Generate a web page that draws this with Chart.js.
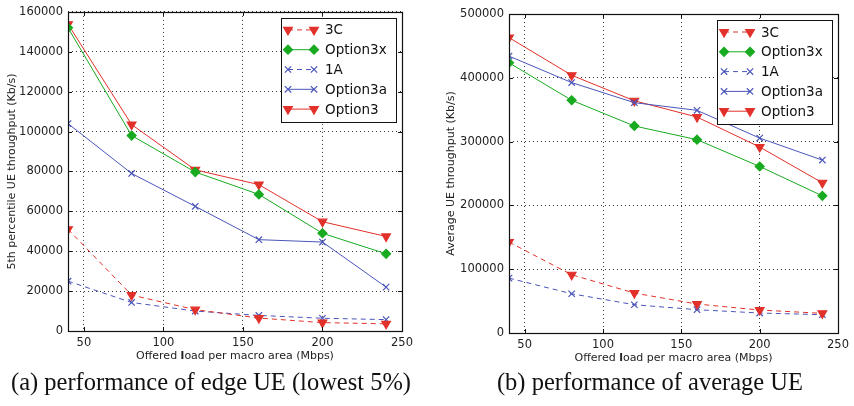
<!DOCTYPE html>
<html>
<head>
<meta charset="utf-8">
<script src="https://cdn.jsdelivr.net/npm/chart.js@4"></script>
<style>
  body { margin: 0; background: #fff; width: 854px; height: 406px; overflow: hidden; position: relative; }
  .box { position: absolute; top: 0; width: 427px; height: 370px; }
  .cap { position: absolute; top: 368px; font-family: "Liberation Serif", serif; font-size: 24.5px; color: #111; white-space: nowrap; transform: translateX(-50%); }
</style>
</head>
<body>
<div class="box" style="left:0"><canvas id="edge"></canvas></div>
<div class="box" style="left:427px"><canvas id="avg"></canvas></div>
<div class="cap" style="left:211px">(a) performance of edge UE (lowest 5%)</div>
<div class="cap" style="left:650px">(b) performance of average UE</div>
<script>
const loads = [40, 80, 120, 160, 200, 240];
const xTicks = [50, 100, 150, 200, 250];
const seriesNames = ["3C", "Option3x", "1A", "Option3a", "Option3"];

// 5th percentile (edge UE) throughput, Kb/s
const edge3C = [51000, 18000, 10700, 6500, 4200, 3600];
const edgeOpt3x = [152000, 98000, 79700, 68500, 49000, 38700];
const edge1A = [25000, 14300, 10000, 7800, 6400, 5700];
const edgeOpt3a = [104000, 79000, 62500, 45800, 44600, 22000];
const edgeOpt3 = [153800, 103500, 80800, 73400, 54800, 47400];

// average UE throughput, Kb/s
const avg3C = [142500, 91300, 62600, 45400, 36000, 30800];
const avgOpt3x = [423500, 364800, 324500, 303000, 261000, 215000];
const avg1A = [86000, 61500, 44300, 36500, 31300, 28700];
const avgOpt3a = [434000, 392500, 361000, 349000, 305500, 271000];
const avgOpt3 = [463000, 404000, 364000, 338500, 291500, 235500];

const RED = "#e2302a", GREEN = "#18aa20", BLUE = "#4a55b8";
const FONT = "'DejaVu Sans', sans-serif";

function styles(i) {
  return [
    { color: RED, dash: [5, 4], style: "triangle", rot: 180, r: 5 },
    { color: GREEN, dash: [], style: "rectRot", rot: 0, r: 4.5 },
    { color: BLUE, dash: [5, 4], style: "crossRot", rot: 0, r: 4.5 },
    { color: BLUE, dash: [], style: "crossRot", rot: 0, r: 4.5 },
    { color: RED, dash: [], style: "triangle", rot: 180, r: 5 },
  ][i];
}

function makeSets(values) {
  return values.map((arr, i) => {
    const s = styles(i);
    return {
      label: seriesNames[i],
      data: arr.map((v, k) => ({ x: loads[k], y: v })),
      borderColor: s.color,
      backgroundColor: s.color,
      borderWidth: 1,
      borderDash: s.dash,
      pointStyle: s.style,
      pointRotation: s.rot,
      pointRadius: s.r,
      pointBorderWidth: 1.2,
      tension: 0,
    };
  });
}

const framePlugin = {
  id: "frame",
  afterDatasetsDraw(chart) {
    const { ctx, chartArea: a } = chart;
    ctx.save();
    ctx.strokeStyle = "#111";
    ctx.lineWidth = 1;
    ctx.beginPath();
    chart.scales.x.ticks.forEach(t => {
      const px = Math.round(chart.scales.x.getPixelForValue(t.value)) + 0.5;
      ctx.moveTo(px, a.bottom); ctx.lineTo(px, a.bottom - 4);
      ctx.moveTo(px, a.top); ctx.lineTo(px, a.top + 4);
    });
    chart.scales.y.ticks.forEach(t => {
      const py = Math.round(chart.scales.y.getPixelForValue(t.value)) + 0.5;
      ctx.moveTo(a.left, py); ctx.lineTo(a.left + 4, py);
      ctx.moveTo(a.right, py); ctx.lineTo(a.right - 4, py);
    });
    ctx.stroke();
    ctx.lineWidth = 1.2;
    ctx.strokeRect(Math.round(a.left) + 0.5, Math.round(a.top) + 0.5, Math.round(a.width), Math.round(a.height));

    // x axis title with the odd bold "l"
    const parts = [["Offered ", "normal"], ["l", "bold"], ["oad per macro area (Mbps)", "normal"]];
    ctx.fillStyle = "#222";
    ctx.textBaseline = "middle";
    let total = 0;
    parts.forEach(p => { ctx.font = p[1] + " 11px " + FONT; total += ctx.measureText(p[0]).width; });
    let x = (a.left + a.right) / 2 - total / 2;
    const y = a.bottom + 25;
    parts.forEach(p => {
      ctx.font = p[1] + " 11px " + FONT;
      ctx.fillText(p[0], x, y);
      x += ctx.measureText(p[0]).width;
    });

    // legend box inside the plot
    const bw = 115, bh = 104;
    const bx = a.right - 6 - bw, by = a.top + 6;
    ctx.fillStyle = "#fff";
    ctx.fillRect(bx, by, bw, bh);
    ctx.lineWidth = 1;
    ctx.strokeStyle = "#111";
    ctx.strokeRect(Math.round(bx) + 0.5, Math.round(by) + 0.5, bw, bh);
    chart.data.datasets.forEach((ds, i) => {
      const ly = by + 12 + i * 19.8;
      const x0 = bx + 7, x1 = bx + 33;
      ctx.save();
      ctx.strokeStyle = ds.borderColor;
      ctx.lineWidth = 1;
      ctx.setLineDash(ds.borderDash);
      ctx.beginPath(); ctx.moveTo(x0, ly); ctx.lineTo(x1, ly); ctx.stroke();
      ctx.restore();
      ctx.fillStyle = ds.backgroundColor;
      ctx.strokeStyle = ds.borderColor;
      ctx.lineWidth = 1.2;
      const opts = { pointStyle: ds.pointStyle, radius: ds.pointRadius, rotation: ds.pointRotation, borderWidth: 1.2 };
      Chart.helpers.drawPoint(ctx, opts, x0, ly);
      Chart.helpers.drawPoint(ctx, opts, x1, ly);
      ctx.fillStyle = "#111";
      ctx.font = "13.5px " + FONT;
      ctx.textBaseline = "middle";
      ctx.fillText(ds.label, bx + 44, ly + 1);
    });
    ctx.restore();
  }
};

function build(id, values, yMax, yStep, yTitle, yWidth, xHeight, pad, titlePad) {
  new Chart(document.getElementById(id), {
    type: "line",
    data: { datasets: makeSets(values) },
    options: {
      responsive: true,
      maintainAspectRatio: false,
      animation: false,
      layout: { padding: pad },
      plugins: { legend: { display: false }, tooltip: { enabled: false } },
      scales: {
        x: {
          type: "linear", min: 40, max: 250,
          afterBuildTicks: s => { s.ticks = xTicks.map(v => ({ value: v })); },
          afterFit: s => { s.height = xHeight; },
          grid: { color: "#333", lineWidth: 1, drawTicks: false },
          border: { display: false, dash: [1, 3] },
          ticks: { padding: 5, color: "#222", font: { family: FONT, size: 11.5 }, maxRotation: 0 },
        },
        y: {
          min: 0, max: yMax,
          ticks: { stepSize: yStep, padding: 5, color: "#222", font: { family: FONT, size: 11.5 }, callback: v => String(v) },
          afterFit: s => { s.width = yWidth; },
          grid: { color: "#333", lineWidth: 1, drawTicks: false },
          border: { display: false, dash: [1, 3] },
          title: { display: true, text: yTitle, color: "#222", font: { family: FONT, size: 11 }, padding: { top: titlePad, bottom: 2 } },
        },
      },
    },
    plugins: [framePlugin],
  });
}

build("edge", [edge3C, edgeOpt3x, edge1A, edgeOpt3a, edgeOpt3], 160000, 20000,
  "5th percentile UE throughput (Kb/s)", 68, 39, { top: 8, right: 25, left: 0, bottom: 0 }, 6);
build("avg", [avg3C, avgOpt3x, avg1A, avgOpt3a, avgOpt3], 500000, 100000,
  "Average UE throughput (Kb/s)", 82, 37, { top: 14, right: 14, left: 0, bottom: 0 }, 18);
</script>
</body>
</html>
